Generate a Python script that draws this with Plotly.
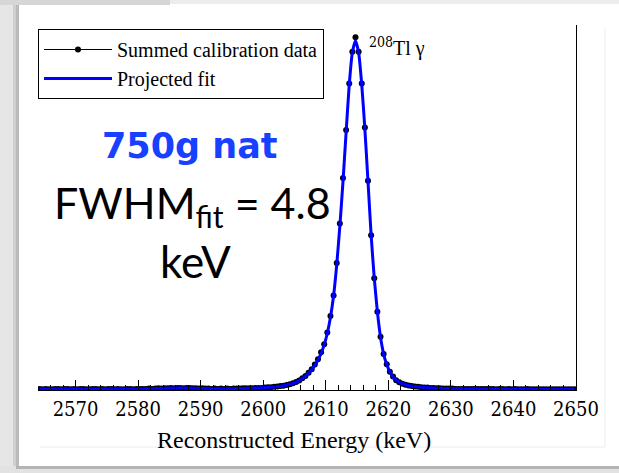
import numpy as np
import plotly.graph_objects as go

# Histogram binning: 0.5 keV bins from 2564 to 2650 keV
bin_low = 2564.0
bin_width = 0.5
energy = bin_low + bin_width * (np.arange(172) + 0.5)

# Summed calibration data (counts per bin)
data_counts = (
    # 2564.25 - 2599.25 keV
    [3, 2, 3, 2, 2, 3, 3, 2, 3, 3, 2, 3, 2, 3, 3, 2, 2, 3, 3, 2,
     3, 2, 3, 3, 2, 3, 2, 2, 3, 3, 2, 3]
    + [3, 3, 3, 4, 3, 4, 5, 4]
    + [5, 5, 6, 5, 6, 6, 5, 6, 6, 5, 5, 4]
    + [5, 4, 4, 3, 4, 3, 4, 3, 4, 3]
    + [4, 4, 4, 5, 5, 5, 5, 6, 6]
    # 2599.75 - 2630.75 keV (photopeak)
    + [6, 7, 8, 8, 9, 10, 11, 12, 14, 16, 19, 23, 27, 33, 40, 49, 59, 72, 87, 107,
       130, 163, 210, 268, 360, 472, 601, 737, 869, 959, 1000,
       959, 869, 744, 593, 439, 317, 222, 151, 102, 73, 52, 38, 28, 22, 18, 15, 13, 11, 10,
       9, 8, 7, 7, 6, 6, 5, 5, 4, 4, 4, 4, 3]
    # 2631.25 - 2649.75 keV
    + [3, 3, 3, 3, 3, 3, 3, 3, 3, 3, 3, 3, 2, 3, 3, 2, 3, 2, 3, 2,
       2, 2, 3, 2, 2, 2, 2, 2, 2, 2, 2, 2, 2, 2, 2, 2, 2, 2]
)

# Projected fit evaluated at the bin centres
fit_counts = (
    [2.6] * 32
    + [2.8, 3.0, 3.2, 3.4, 3.7, 4.0, 4.3, 4.6]
    + [4.9, 5.2, 5.4, 5.6, 5.7, 5.8, 5.8, 5.7, 5.5, 5.2, 4.9, 4.6]
    + [4.3, 4.1, 3.9, 3.7, 3.6, 3.5, 3.5, 3.5, 3.5, 3.6]
    + [3.8, 4.0, 4.2, 4.4, 4.7, 5.0, 5.3, 5.7, 6.1]
    + [6.6, 7.0, 7.5, 8.1, 8.8, 9.7, 10.8, 12.2, 14.0, 16.2, 19.0, 22.5, 27.0, 32.5,
       39.5, 48, 58, 70, 85, 104, 128, 161, 206, 268, 355, 465, 590, 730, 865, 957, 990,
       957, 866, 740, 592, 440, 318, 222, 150, 102, 72, 51, 37, 28, 22, 18, 15, 13,
       11.3, 10.0, 9.0, 8.1, 7.4, 6.7, 6.1, 5.6, 5.2, 4.8, 4.5, 4.2, 3.9, 3.7, 3.5]
    + [3.4, 3.3, 3.2, 3.1, 3.0, 2.95, 2.9, 2.85, 2.8, 2.75,
       2.7, 2.65, 2.6, 2.55, 2.5, 2.5, 2.45, 2.4, 2.4, 2.35,
       2.3, 2.3, 2.25, 2.2, 2.2, 2.15, 2.1, 2.1, 2.05, 2.0,
       2.0, 2.0, 1.95, 1.9, 1.9, 1.9, 1.85, 1.8]
)

x_range = [2564, 2650]
y_range = [0, 1035]
x_ticks = [2570, 2580, 2590, 2600, 2610, 2620, 2630, 2640, 2650]

W, H = 619, 473
ML, MR, MT, MB = 38, 43, 25, 83
PW, PH = W - ML - MR, H - MT - MB


def px(xp):
    return (xp - ML) / PW


def py(yp):
    return (H - MB - yp) / PH


SERIF = "Liberation Serif"
DIGITS = "DejaVu Serif Condensed, DejaVu Serif"

fig = go.Figure()

# legend-only entry so the data symbol shows a line with a marker
fig.add_trace(go.Scatter(
    x=[None], y=[None], mode="lines+markers", name="Summed calibration data",
    line=dict(color="black", width=1), marker=dict(color="black", size=6),
))
fig.add_trace(go.Scatter(
    x=energy, y=data_counts, mode="markers", showlegend=False,
    marker=dict(color="black", size=6), hoverinfo="x+y",
))
fig.add_trace(go.Scatter(
    x=energy, y=fit_counts, mode="lines", name="Projected fit",
    line=dict(color="#0000ff", width=3, shape="spline", smoothing=0.6),
))


def box(x0, x1, y0, y1, color):
    return dict(type="rect", xref="paper", yref="paper",
                x0=px(x0), x1=px(x1), y0=py(y0), y1=py(y1),
                fillcolor=color, line=dict(width=0), layer="below")


# slide frame and drop shadow around the plot
shapes = [
    box(0, 13, 0, H, "#e6e6e6"),
    box(13, 16, 4, 468, "#cfcfcf"),
    box(16, 19, 4, 468, "#bababa"),
    box(0, W, 0, 4, "#ececec"),
    box(0, 170, 0, 5, "#d6d6d6"),
    box(0, W, 466, H, "#e2e2e2"),
    box(16, W, 466, 469, "#b4b4b4"),
    dict(type="line", xref="paper", yref="paper", x0=px(605), x1=px(605), y0=py(28), y1=py(447),
         line=dict(color="#ececec", width=1), layer="below"),
    dict(type="line", xref="paper", yref="paper", x0=px(40), x1=px(605), y0=py(447), y1=py(447),
         line=dict(color="#ececec", width=1), layer="below"),
]

annotations = [
    dict(text="Reconstructed Energy (keV)", x=px(294), y=py(440), xref="paper", yref="paper",
         showarrow=False, font=dict(family=SERIF, size=24, color="black"),
         xanchor="center", yanchor="middle"),
    dict(text="<b>750g nat</b>", x=px(190), y=py(146), xref="paper", yref="paper",
         showarrow=False, font=dict(family="DejaVu Sans", size=35, color="#1740ff"),
         xanchor="center", yanchor="middle"),
    dict(text="FWHM<sub>fit</sub> = 4.8", x=px(192), y=py(205), xref="paper", yref="paper",
         showarrow=False, font=dict(family="Lato", size=43, color="black"),
         xanchor="center", yanchor="middle"),
    dict(text="keV", x=px(195), y=py(261), xref="paper", yref="paper",
         showarrow=False, font=dict(family="Lato", size=44, color="black"),
         xanchor="center", yanchor="middle"),
    dict(text="<sup><span style='font-family:DejaVu Serif Condensed'>208</span></sup>Tl \u03b3",
         x=px(367), y=py(47), xref="paper", yref="paper",
         showarrow=False, font=dict(family=SERIF, size=20, color="black"),
         xanchor="left", yanchor="middle"),
]

fig.update_layout(
    width=W, height=H,
    margin=dict(l=ML, r=MR, t=MT, b=MB),
    paper_bgcolor="white",
    plot_bgcolor="rgba(0,0,0,0)",
    font=dict(family=SERIF, size=22, color="black"),
    showlegend=True,
    legend=dict(
        x=0, y=py(29), xanchor="left", yanchor="top",
        bgcolor="white", bordercolor="black", borderwidth=1,
        font=dict(family=SERIF, size=20, color="black"),
        itemwidth=68, tracegroupgap=0,
    ),
    shapes=shapes,
    annotations=annotations,
)
fig.update_xaxes(
    range=x_range, tickmode="array", tickvals=x_ticks, showgrid=False, zeroline=False,
    showline=True, linecolor="black", linewidth=1,
    ticks="inside", ticklen=10, tickwidth=1, tickcolor="black",
    minor=dict(dtick=2, tick0=2570, ticks="inside", ticklen=5, tickcolor="black", tickwidth=1),
    tickfont=dict(family=DIGITS, size=20, color="black"),
    ticklabelstandoff=1,
)
fig.update_yaxes(
    range=y_range, side="right", showgrid=False, zeroline=False,
    showline=True, linecolor="black", linewidth=1,
    showticklabels=False, ticks="",
)

fig.write_html("out.html")
